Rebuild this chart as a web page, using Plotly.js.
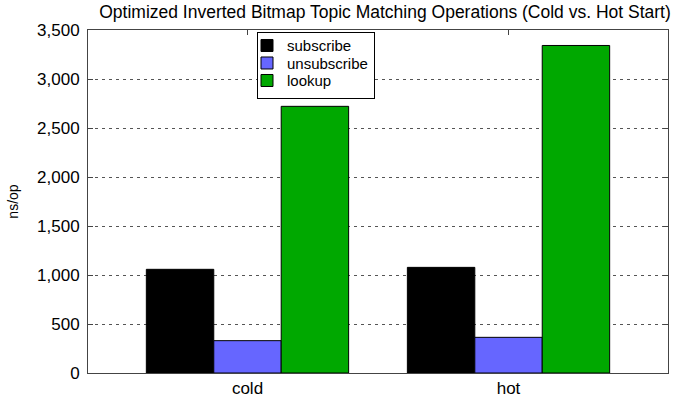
<!DOCTYPE html>
<html>
<head>
<meta charset="utf-8">
<script src="https://cdn.plot.ly/plotly-3.0.1.min.js"></script>
<style>html,body{margin:0;padding:0;background:#fff}#chart{width:700px;height:397px}</style>
</head>
<body>
<div id="chart"></div>
<script>
const categories = ["cold", "hot"];
const subscribeValues = [1058, 1078];
const unsubscribeValues = [330, 364];
const lookupValues = [2721, 3342];
const seriesNames = ["subscribe", "unsubscribe", "lookup"];
const seriesColors = ["#000000", "#6666ff", "#00a800"];
const yTicks = [0, 500, 1000, 1500, 2000, 2500, 3000, 3500];

const FONT = "Liberation Sans, Arial, Helvetica, sans-serif";
const seriesValues = [subscribeValues, unsubscribeValues, lookupValues];

const traces = seriesNames.map((name, i) => ({
  type: "bar",
  name: name,
  x: categories,
  y: seriesValues[i],
  marker: { color: seriesColors[i], line: { color: "#000000", width: 1 } },
  hoverinfo: "skip"
}));
// invisible trace to carry the top axis ticks
traces.push({
  type: "scatter", x: categories, y: [null, null], xaxis: "x2", yaxis: "y",
  showlegend: false, hoverinfo: "skip", mode: "markers"
});

const layout = {
  width: 700, height: 397,
  margin: { l: 88, r: 32, t: 29.5, b: 24, pad: 0 },
  paper_bgcolor: "#ffffff", plot_bgcolor: "#ffffff",
  font: { family: FONT, size: 15, color: "#000000" },
  title: {
    text: "Optimized Inverted Bitmap Topic Matching Operations (Cold vs. Hot Start)",
    font: { family: FONT, size: 17.5, color: "#000000" },
    x: 385 / 700, xref: "container", xanchor: "center",
    y: 1 - 12 / 397, yref: "container", yanchor: "middle"
  },
  barmode: "group",
  bargap: 0.225,
  bargroupgap: 0,
  xaxis: {
    type: "category",
    range: [-0.611, 1.611],
    showline: true, linecolor: "#444444", linewidth: 1, mirror: true,
    ticks: "", showgrid: false, zeroline: false,
    tickfont: { family: FONT, size: 17, color: "#000000" },
    ticklabelstandoff: 0
  },
  xaxis2: {
    type: "category", overlaying: "x", side: "top", matches: "x",
    range: [-0.611, 1.611],
    ticks: "inside", ticklen: 5, tickcolor: "#444444", tickwidth: 1,
    showticklabels: false, showgrid: false, zeroline: false, showline: false
  },
  yaxis: {
    range: [0, 3500],
    tickvals: yTicks,
    tickformat: ",",
    showline: true, linecolor: "#444444", linewidth: 1, mirror: "ticks",
    ticks: "inside", ticklen: 5, tickcolor: "#444444", tickwidth: 1,
    showgrid: true, gridcolor: "#555555", gridwidth: 1, griddash: "3px,4px",
    zeroline: false,
    tickfont: { family: FONT, size: 17, color: "#000000" },
    ticklabelstandoff: 4,
    title: { text: "ns/op", font: { family: FONT, size: 14, color: "#000000" }, standoff: 15 }
  },
  legend: {
    x: (257 - 88) / 580, xanchor: "left",
    y: (373 - 32) / 343.5, yanchor: "top",
    bgcolor: "#ffffff", bordercolor: "#000000", borderwidth: 1,
    font: { family: FONT, size: 15, color: "#000000" },
    tracegroupgap: 0
  },
  showlegend: true
};

const gd = document.getElementById("chart");
Plotly.newPlot(gd, traces, layout, { displayModeBar: false, staticPlot: true }).then(() => {
  // tighten the legend rows to match the reference's compact key
  const items = gd.querySelectorAll(".legend .traces");
  items.forEach((t, i) => {
    const m = /translate\(\s*([-\d.]+)[ ,]+([-\d.]+)/.exec(t.getAttribute("transform") || "");
    const x0 = m ? parseFloat(m[1]) : 0;
    t.setAttribute("transform", "translate(" + (x0 - 11) + "," + (13 + i * 17.5) + ")");
  });
  const bg = gd.querySelector(".legend rect.bg");
  if (bg) { bg.setAttribute("width", 117); bg.setAttribute("height", 65.5); }
});
</script>
</body>
</html>
